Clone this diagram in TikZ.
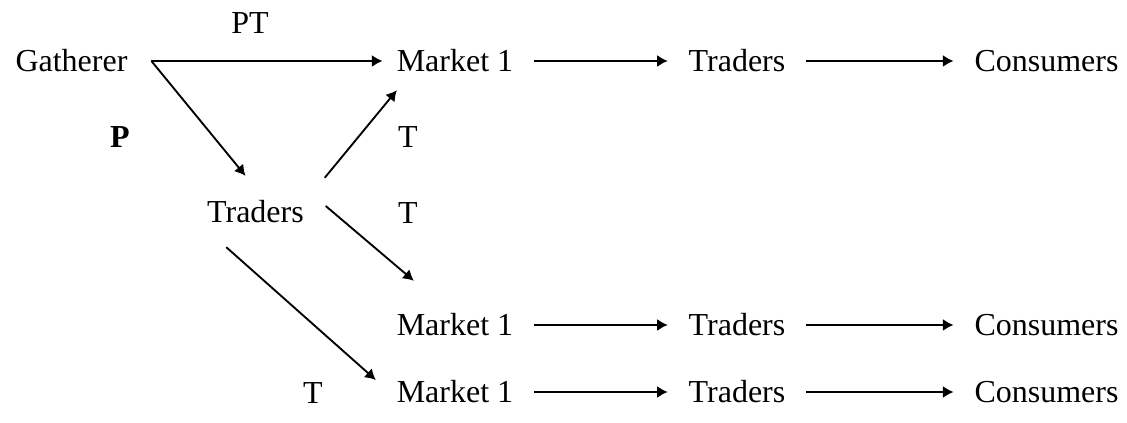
\documentclass[tikz,border=0pt]{standalone}
\usepackage{fontspec}
\setmainfont{Liberation Serif}
\usetikzlibrary{arrows.meta}
\begin{document}
\begin{tikzpicture}[x=0.375pt,y=-0.375pt,>={Latex[length=4pt,width=4.5pt]},line width=0.7pt,font=\fontsize{12}{14}\selectfont,
	stage/.style={inner sep=0pt},
	tag/.style={inner sep=0pt},
	flow/.style={->,shorten <=7.5pt,shorten >=7.5pt}]
		\useasboundingbox (0,0) rectangle (1127,423);
		\node[stage] (g) at (71.5,61) {Gatherer};
		\node[stage] (tm) at (255.5,212) {Traders};
		\foreach \r/\y in {1/61,2/325,3/392}{
			\node[stage] (m\r) at (455,\y) {Market 1};
			\node[stage] (t\r) at (737,\y) {Traders};
			\node[stage] (c\r) at (1046.5,\y) {Consumers};
			\draw[flow] (m\r) -- (t\r);
			\draw[flow] (t\r) -- (c\r);
		}
		\draw[flow,shorten <=8.5pt,shorten >=5pt] (g) -- (m1);
		\draw[->] ([shift={(23,0)}]g.east) -- ([shift={(-10,-24)}]tm.north);
		\draw[->] ([shift={(20,-22)}]tm.north east) -- ([shift={(1,17)}]m1.south west);
		\draw[->] ([shift={(21,-6)}]tm.east) -- ([shift={(18,-32)}]m2.north west);
		\draw[->] ([shift={(20,23)}]tm.south west) -- ([shift={(-20,-12)}]m3.west);
		\node[tag] (lpt) at (250,23) {PT};
		\node[tag] (lp) at (120,137) {\textbf{P}};
		\node[tag] (lt1) at (408,137) {T};
		\node[tag] (lt2) at (408,213) {T};
		\node[tag] (lt3) at (313,393) {T};
\end{tikzpicture}
\end{document}
